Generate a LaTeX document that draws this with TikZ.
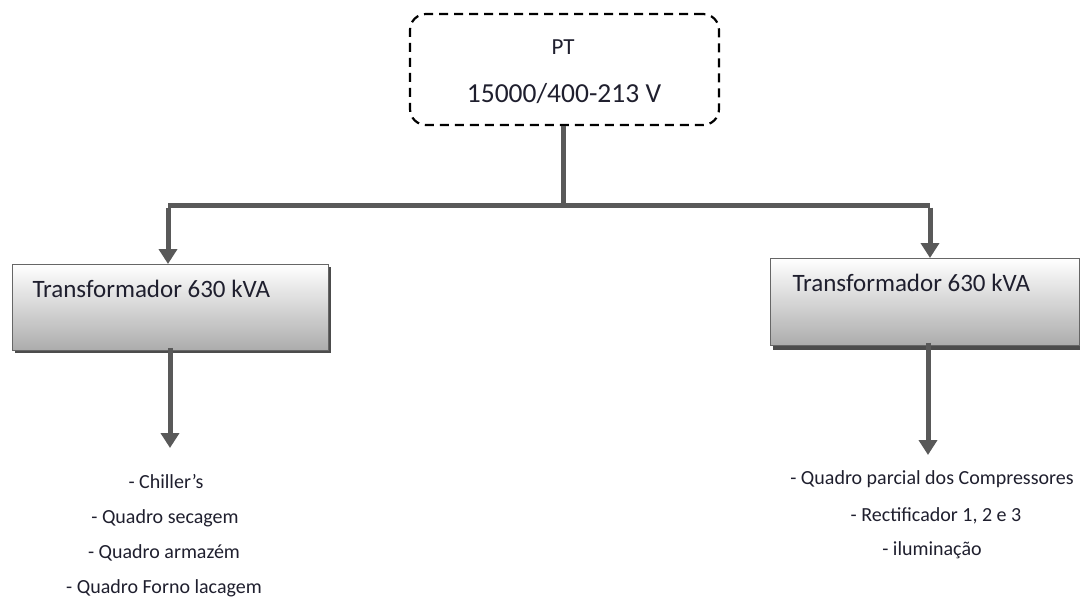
\documentclass[tikz,border=0pt]{standalone}
\usepackage{fontspec}
\setmainfont{Carlito}
\usetikzlibrary{arrows.meta,positioning}
\definecolor{linegray}{HTML}{595959}
\definecolor{txt}{HTML}{1F1F2E}
\tikzset{
  conn/.style={draw=linegray, line width=5pt},
  arr/.style={conn, -{Triangle[width=18pt,length=15pt]}},
  ptbox/.style={draw=black, line width=2.2pt, dash pattern=on 9pt off 6pt, rounded corners=16pt, minimum width=309pt, minimum height=111pt, inner sep=0pt},
  trafo/.style={draw=gray!80!black, line width=0.8pt, top color=white, bottom color=gray!65, anchor=north west, inner sep=0pt},
  trlabel/.style={font=\fontsize{25}{25}\selectfont, text=txt, anchor=base west},
  item/.style={font=\fontsize{20}{20}\selectfont, text=txt, anchor=base}
}
\begin{document}
\begin{tikzpicture}[x=1pt,y=-1pt]
\useasboundingbox (0,0) rectangle (1080,598);
% top box
\node[ptbox] (pt) at (564.5,69.5) {};
\node[font=\fontsize{23}{23}\selectfont, text=txt, anchor=base] (ptl) at (563,54) {PT};
\node[font=\fontsize{27.5}{27.5}\selectfont, text=txt, anchor=base] (ptv) at (564,102) {15000/400-213 V};
% bus
\coordinate (j) at (563,205);
\coordinate (jl) at (168,205);
\coordinate (jr) at (930,205);
% left transformer
\fill[gray!60!black] (15,267) rectangle (331,353);
\node[trafo, minimum width=316pt, minimum height=86pt] (t1) at (12,264) {};
\node[trlabel] (t1l) at (29,297) {Transformador 630 kVA};
% right transformer
\fill[gray!60!black] (773,261) rectangle (1080,350);
\node[trafo, minimum width=309pt, minimum height=87pt] (t2) at (770,258) {};
\node[trlabel] (t2l) at (789,291) {Transformador 630 kVA};
% connectors
\draw[conn] (pt.south -| j) -- (j);
\draw[conn] (jl) -- (jr);
\draw[arr] ([yshift=-2.5pt]jl) -- (t1.north -| jl);
\draw[arr] ([yshift=-2.5pt]jr) -- (t2.north -| jr);
\coordinate (e1) at (170,448);
\coordinate (e2) at (928,455);
\draw[arr] ([yshift=3pt]t1.south -| e1) -- (e1);
\draw[arr] ([yshift=3pt]t2.south -| e2) -- (e2);
% lists
\node[item] (a1) at (166,488) {- Chiller’s};
\node[item] (a2) at (165,523) {- Quadro secagem};
\node[item] (a3) at (164,558) {- Quadro armazém};
\node[item] (a4) at (164,593) {- Quadro Forno lacagem};
\node[item] (b1) at (932,484) {- Quadro parcial dos Compressores};
\node[item] (b2) at (936,521) {- Rectificador 1, 2 e 3};
\node[item] (b3) at (932,555) {- iluminação};
\end{tikzpicture}
\end{document}
